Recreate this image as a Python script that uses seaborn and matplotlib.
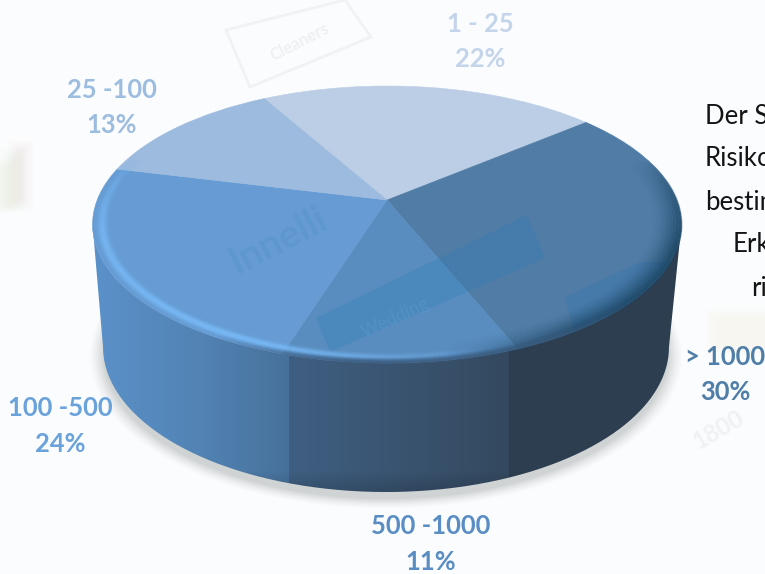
import numpy as np
import matplotlib
matplotlib.use("Agg")
import matplotlib.pyplot as plt
import seaborn as sns
from matplotlib.collections import LineCollection
from matplotlib.patches import PathPatch, Polygon, Rectangle
from matplotlib.path import Path
from matplotlib.transforms import Transform

# Share of companies per size band, clockwise from the back of the pie
bands = ["1 - 25", "> 1000", "500 -1000", "100 -500", "25 -100"]
shares = [22, 30, 11, 24, 13]
top_colors = ["#bccee5", "#507ca6", "#5a8dbf", "#669cd3", "#9dbbde"]
label_colors = ["#c4d4ea", "#4f7ea9", "#5a8dc4", "#6aa2dc", "#9dbde0"]
side_text = ["Der S", "Risiko", "bestim", "Erk", "ri"]

START_ANGLE = 119.3


class Perspective(Transform):
    """Projects the flat unit pie onto a receding plane."""
    input_dims = output_dims = 2
    is_affine = False

    def __init__(self, x0, y0, a, b, k):
        super().__init__()
        self.x0, self.y0, self.a, self.b, self.k = x0, y0, a, b, k

    def transform_non_affine(self, values):
        v = np.asarray(values, float)
        w = 1 + self.k * v[:, 1]
        return np.column_stack([self.x0 + self.a * v[:, 0] / w,
                                self.y0 - self.b * v[:, 1] / w])


def ring(r=1.0, t0=0.0, t1=360.0, n=240):
    t = np.radians(np.linspace(t0, t1, n))
    return np.column_stack([r * np.cos(t), r * np.sin(t)])


sns.set_theme(style="white")
plt.rcParams["font.family"] = ["Lato", "DejaVu Sans"]

fig = plt.figure(figsize=(7.65, 5.74), dpi=100, facecolor="#fbfcfd")
ax = fig.add_axes([0, 0, 1, 1])

wedges, _ = ax.pie(shares, colors=top_colors, startangle=START_ANGLE,
                   counterclock=False, radius=1.0,
                   wedgeprops=dict(linewidth=0, antialiased=True))
ax.set_aspect("auto")
ax.set_xlim(0, 765)
ax.set_ylim(574, 0)
ax.set_facecolor("#fbfcfd")
ax.set_axis_off()

top_plane = Perspective(387, 200, 289.8, 134.2, 0.177)
base_plane = Perspective(386, 321.3, 278.5, 140.5, 0.177)
top_tf = top_plane + ax.transData

# Faint backdrop graphics behind the chart, built up in soft layers
for grow in np.linspace(0, 10, 6):
    for (x, y, w, h, c) in [(0, 168, 7, 36, "#f0b060"), (9, 158, 7, 44, "#90c878"),
                            (18, 150, 6, 50, "#f09090"), (716, 318, 50, 28, "#f8d088")]:
        ax.add_patch(Rectangle((x - grow, y - grow), w + 2 * grow, h + 2 * grow, color=c,
                               alpha=0.01, lw=0, zorder=0.2))
ax.add_patch(Polygon([(345, 0), (371, 37), (250, 87), (226, 30)], closed=True, fill=False,
                     ec="#f1f2f5", lw=2, zorder=0.2))
ax.text(300, 42, "Cleaners", rotation=27, color="#eff0f3", fontsize=12, fontweight="bold",
        ha="center", va="center", zorder=0.2)
ax.text(718, 430, "1800", rotation=30, color="#f0f1f4", fontsize=17, fontweight="bold",
        ha="center", va="center", zorder=0.2)

# Soft shadow under the base
for r, alpha in zip(np.linspace(1.045, 1.0, 8), np.linspace(0.015, 0.05, 8)):
    pts = base_plane.transform(ring(r)) + [0, 7]
    ax.add_patch(Polygon(pts, closed=True, color="#50555f", alpha=alpha, lw=0, zorder=0.5))

# Column colours of the wall: each visible slice has its own horizontal gradient
angles = START_ANGLE - np.cumsum([0] + shares) * 3.6
edge_pts = np.column_stack([np.cos(np.radians(angles)), np.sin(np.radians(angles))]) * 0.945
edge_x = top_plane.transform(edge_pts)[:, 0]
left_edge, mid_edge = edge_x[3], edge_x[2]

cols = np.arange(765) + 0.5
stops_x = [90, 200, left_edge - 0.5, left_edge + 0.5, mid_edge - 0.5, mid_edge + 0.5, 690]
stops_c = np.array([matplotlib.colors.to_rgb(c) for c in
                    ["#5b92ca", "#5283b4", "#47719b", "#3f5f82", "#34495f", "#2d3e50", "#2e3f52"]])
strip = np.column_stack([np.interp(cols, stops_x, stops_c[:, i]) for i in range(3)])
wall_img = np.repeat(strip[None, :, :], 574, axis=0)
shade = np.clip((np.arange(574) - 470) / 25, 0, 1)[:, None, None]
wall_img = wall_img * (1 - 0.18 * shade)

base_edge = base_plane.transform(ring(1.0, 190.2, 349.8))
top_edge = top_plane.transform(ring(1.0, 349.8, 190.2))
wall_path = Path(np.vstack([base_edge, top_edge, base_edge[:1]]))
wall = ax.imshow(wall_img, extent=(0, 765, 574, 0), aspect="auto", zorder=1, interpolation="bilinear")
wall.set_clip_path(PathPatch(wall_path, transform=ax.transData))
ax.set_xlim(0, 765)
ax.set_ylim(574, 0)

for wedge, color in zip(wedges, top_colors):
    wedge.set_transform(top_tf)
    wedge.set_zorder(2)
    wedge.set_edgecolor(color)
    wedge.set_linewidth(0.4)

# Watermark graphics showing through the translucent top
disc = Path(ring(1.0))
band_a = Polygon([(527, 215), (545, 258), (330, 352), (316, 318)], closed=True,
                 color="#2f7fb8", alpha=0.33, lw=0, zorder=2.2)
band_b = Polygon([(565, 297), (640, 262), (690, 262), (690, 300), (575, 335)], closed=True,
                 color="#2f78b0", alpha=0.3, lw=0, zorder=2.2)
for patch in (band_a, band_b):
    ax.add_patch(patch)
    patch.set_clip_path(disc, top_tf)
ax.text(278, 240, "Innelli", rotation=27, color="#5e97cf", fontsize=28,
        fontweight="bold", ha="center", va="center", zorder=2.2)
ax.text(395, 318, "Wedding", rotation=25, color="#5c9bd0", alpha=0.4, fontsize=13,
        fontweight="bold", ha="center", va="center", zorder=2.3)


# Bevel around the rim: bright on the lit left side, dark on the right
def rim_band(radii, t, rgb, strength, profile):
    for r in radii:
        pts = top_plane.transform(ring(r, t[0], t[-1], len(t)))
        segs = np.stack([pts[:-1], pts[1:]], axis=1)
        rgba = np.zeros((len(segs), 4))
        rgba[:, :3] = matplotlib.colors.to_rgb(rgb)
        rgba[:, 3] = strength[:-1] * profile(r)
        ax.add_collection(LineCollection(segs, colors=rgba, linewidths=1.3, zorder=2.5))


theta = np.linspace(160, 385, 300)
light = np.interp(theta, [160, 180, 195, 245, 268, 290], [0, 0.5, 0.85, 0.85, 0.3, 0])
dark = np.interp(theta, [280, 305, 340, 362, 378], [0, 0.5, 0.7, 0.35, 0])
front = np.interp(theta, [240, 265, 300, 320], [0, 0.7, 0.6, 0])
radii = np.linspace(0.9, 1.0, 22)
rim_band(radii, theta, "#78b9f6", light, lambda r: np.exp(-((r - 0.968) / 0.014) ** 2))
rim_band(radii, theta, "#123a54", dark, lambda r: np.clip((r - 0.9) / 0.09, 0, 1) ** 1.8)
rim_band(radii, theta, "#3a5a7c", front, lambda r: np.clip((r - 0.974) / 0.022, 0, 1))

# Band labels
label_spots = [(480, 24), (725, 357), (431, 526), (60, 408), (112, 90)]
pct_spots = [(480, 59), (725, 392), (431, 562), (60, 444), (112, 125)]
for name, share, color, p1, p2 in zip(bands, shares, label_colors, label_spots, pct_spots):
    ax.text(*p1, name, color=color, fontsize=18.4, fontweight="bold", ha="center", va="center", zorder=4)
    ax.text(*p2, f"{share}%", color=color, fontsize=18.4, fontweight="bold", ha="center", va="center", zorder=4)

# Body text running off the right side
for line, x, y in zip(side_text, [705, 705, 705, 733, 751], [117, 159, 202, 245, 288]):
    ax.text(x, y, line, color="#141414", fontsize=18.5, ha="left", va="center", zorder=4)

fig.savefig("out.png", dpi=100, facecolor=fig.get_facecolor())
